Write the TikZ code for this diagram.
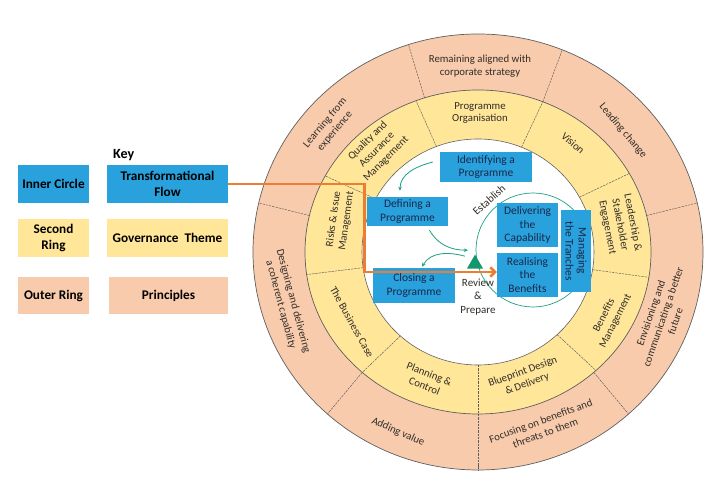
\documentclass[tikz,border=0pt]{standalone}
\usepackage{fontspec}
\setmainfont{Carlito}
\usetikzlibrary{arrows.meta,shapes.geometric}

\definecolor{ringpeach}{RGB}{248,203,173}
\definecolor{ringyellow}{RGB}{255,230,153}
\definecolor{boxblue}{RGB}{41,161,220}
\definecolor{boxtext}{RGB}{25,40,75}
\definecolor{cyclegreen}{RGB}{30,160,135}
\definecolor{trigreen}{RGB}{20,150,110}
\definecolor{floworange}{RGB}{237,125,49}
\definecolor{ringline}{RGB}{95,95,95}
\definecolor{ringtxt}{RGB}{50,45,40}

\tikzset{
  keybox/.style={inner sep=0pt, align=center, minimum height=1.14cm, minimum width=2.13cm,
    font=\fontsize{11.3}{13.5}\selectfont\bfseries},
  flowbox/.style={fill=boxblue, text=boxtext, inner sep=0pt, align=center,
    font=\fontsize{9.8}{11.2}\selectfont},
  ringlbl/.style={text=ringtxt, align=center, inner sep=0pt, font=\fontsize{9.2}{11}\selectfont},
  divider/.style={ringline, line width=0.4pt, dash pattern=on 2pt off 0.8pt},
  cyclearrow/.style={cyclegreen, line width=0.7pt, -{Stealth[length=3.5pt,width=3pt]}},
  flowline/.style={floworange, line width=2.2pt, -{Straight Barb[length=4pt,width=8pt]}},
}

\begin{document}
\begin{tikzpicture}[x=0.03cm, y=0.03cm]
  \useasboundingbox (0,0) rectangle (717,489);

  % key
  \node[anchor=west, font=\fontsize{12}{14}\selectfont\bfseries] (keytitle) at (109,334) {Key};
  \node[keybox, fill=boxblue] (inner) at (53.5,305) {Inner Circle};
  \node[keybox, fill=boxblue, minimum width=3.63cm] (flow) at (167.5,305) {Transformational\\Flow};
  \node[keybox, fill=ringyellow] (second) at (53.5,251) {Second\\Ring};
  \node[keybox, fill=ringyellow, minimum width=3.63cm] (theme) at (167.5,251) {Governance~~Theme};
  \node[keybox, fill=ringpeach, minimum height=1.11cm] (outer) at (53.5,193.5) {Outer Ring};
  \node[keybox, fill=ringpeach, minimum height=1.11cm, minimum width=3.57cm] (principles) at (168.5,193) {Principles};

  % rings
  \fill[ringpeach] (478,237) ellipse [x radius=6.75cm, y radius=6.54cm];
  \draw[ringline, line width=0.6pt] (478,237) ellipse [x radius=6.75cm, y radius=6.54cm];
  \fill[ringyellow] (478,237) ellipse [x radius=5.19cm, y radius=4.86cm];
  \draw[ringline, line width=0.6pt] (478,237) ellipse [x radius=5.19cm, y radius=4.86cm];
  \fill[white] (478,237) ellipse [x radius=3.48cm, y radius=3.39cm];
  \draw[ringline, line width=0.5pt] (478,237) ellipse [x radius=3.48cm, y radius=3.39cm];

  \begin{scope}[shift={(478,237)}]
    \foreach \a in {108,68,13,-48,-90,-132,167}
      \draw[divider] (\a:173 and 162) -- (\a:225 and 218);
    \foreach \a in {111,68,29,-9,-47,-90,-132,188,152}
      \draw[divider] (\a:116 and 113) -- (\a:173 and 162);
  \end{scope}

  % principles
  \node[ringlbl] (aligned) at (480,423) {Remaining aligned with\\corporate strategy};
  \node[ringlbl, rotate=-50] (leading) at (623,358) {Leading change};
  \node[ringlbl, rotate=71] (envision) at (663,172) {Envisioning and\\communicating a better\\future};
  \node[ringlbl, rotate=20] (focusing) at (543,62) {Focusing on benefits and\\threats to them};
  \node[ringlbl, rotate=-24] (adding) at (398,57) {Adding value};
  \node[ringlbl, rotate=-75] (designing) at (287,186) {Designing and delivering\\a coherent capability};
  \node[ringlbl, rotate=50] (learning) at (330,362) {Learning from\\experience};

  % governance themes
  \node[ringlbl] (organisation) at (480,376) {Programme\\Organisation};
  \node[ringlbl, rotate=-41] (vision) at (573,346) {Vision};
  \node[ringlbl, rotate=-79] (leadership) at (620,264) {Leadership \&\\Stakeholder\\Engagement};
  \node[ringlbl, rotate=63] (benefits) at (610,171) {Benefits\\Management};
  \node[ringlbl, rotate=20] (blueprint) at (525,111) {Blueprint Design\\\& Delivery};
  \node[ringlbl, rotate=-22] (planning) at (427,109) {Planning \&\\Control};
  \node[ringlbl, rotate=-61] (business) at (352,167) {The Business Case};
  \node[ringlbl, rotate=82] (risks) at (340,269) {Risks \& Issue\\Management};
  \node[ringlbl, rotate=45] (quality) at (377,339) {Quality and\\Assurance\\Management};

  % transformational flow
  \node[circle, draw=cyclegreen, line width=0.6pt, minimum size=3.42cm, inner sep=0pt] (loop) at (533,239) {};
  \node[flowbox, minimum width=2.76cm, minimum height=0.9cm] (identify) at (486,322) {Identifying a\\Programme};
  \node[flowbox, minimum width=2.43cm, minimum height=0.87cm] (define) at (407.5,277.5) {Defining a\\Programme};
  \node[flowbox, minimum width=2.46cm, minimum height=1.05cm] (close) at (414,203.5) {Closing a\\Programme};
  \node[flowbox, minimum width=1.83cm, minimum height=1.32cm] (deliver) at (527.5,264) {Delivering\\the\\Capability};
  \node[flowbox, minimum width=1.83cm, minimum height=1.32cm] (realise) at (527.5,214) {Realising\\the\\Benefits};
  \node[flowbox, minimum width=2.46cm, minimum height=0.9cm, rotate=-90] (tranches) at (576,238) {Managing\\the Tranches};
  \node[regular polygon, regular polygon sides=3, fill=trigreen, minimum size=0.56cm, inner sep=0pt] (review) at (475,225) {};
  \node[text=ringtxt, align=center, font=\fontsize{9.4}{11.5}\selectfont] (reviewlbl) at (478,192) {Review\\\&\\Prepare};
  \node[text=ringtxt, rotate=42, font=\fontsize{9.4}{11}\selectfont] (establish) at (489,289) {Establish};

  \draw[cyclearrow] ([shift={(-7,5)}]identify.west) to[out=195,in=90] ([shift={(-7.5,6)}]define.north);
  \draw[cyclearrow] ([shift={(22,-4)}]define.south) to[out=-60,in=180] ([shift={(-7,4)}]review.corner 1);
  \draw[cyclearrow] ([shift={(-10,-2)}]review.corner 1) to[out=165,in=60] ([shift={(8,1)}]close.north);

  \draw[flowline] (flow.east) -- ++(136,0) |- ([yshift=0.09cm]realise.west);
\end{tikzpicture}
\end{document}
